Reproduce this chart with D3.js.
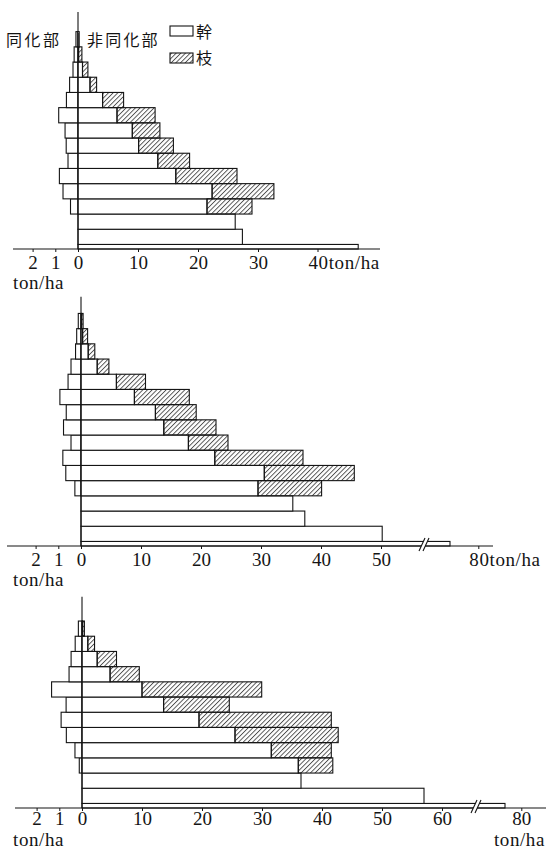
<!DOCTYPE html>
<html>
<head>
<meta charset="utf-8">
<script src="https://cdn.jsdelivr.net/npm/d3@7"></script>
<style>
  html, body { margin: 0; padding: 0; background: #fff; }
  svg { display: block; }
</style>
</head>
<body>
<svg id="chart" width="546" height="850"></svg>
<script>
// ---- Layer boundaries (height above ground, m) ----
const boundsA = [0, 0.3, 1.3, 2.3, 3.3, 4.3, 5.3, 6.3, 7.3, 8.3, 9.3, 10.3, 11.3, 12.3, 13.3, 14.3];
const boundsB = [0, 0.3, 1.3, 2.3, 3.3, 4.3, 5.3, 6.3, 7.3, 8.3, 9.3, 10.3, 11.3, 12.3, 13.3, 14.3, 15.3];
const boundsC = [0, 0.3, 1.3, 2.3, 3.3, 4.3, 5.3, 6.3, 7.3, 8.3, 9.3, 10.3, 11.3, 12.3];

// ---- Dry weight per layer, ton/ha (lowest layer first) ----
// stand A
const leafA   = [0, 0, 0, 0.33, 0.66, 0.82, 0.44, 0.52, 0.57, 0.85, 0.51, 0.37, 0.22, 0.17, 0.09];
const stemA   = [46.7, 27.4, 26.2, 21.5, 22.35, 16.3, 13.3, 10.1, 9.05, 6.5, 4.1, 2.0, 0.75, 0.1, 0.2];
const branchA = [0, 0, 0, 7.5, 10.3, 10.2, 5.3, 5.8, 4.6, 6.35, 3.5, 1.1, 0.9, 0.55, 0];
// stand B
const leafB   = [0, 0, 0, 0, 0.27, 0.67, 0.8, 0.44, 0.77, 0.65, 0.93, 0.57, 0.44, 0.24, 0.19, 0.12];
const stemB   = [75.2, 50.2, 37.3, 35.3, 29.5, 30.55, 22.3, 17.9, 13.8, 12.4, 8.9, 5.9, 2.7, 1.2, 0.27, 0.1];
const branchB = [0, 0, 0, 0, 10.6, 15.0, 14.7, 6.6, 8.7, 6.8, 9.15, 4.85, 1.95, 1.1, 0.83, 0.25];
// stand C
const leafC   = [0, 0, 0, 0.12, 0.31, 0.69, 0.92, 0.7, 1.34, 0.57, 0.48, 0.3, 0.16];
const stemC   = [77.2, 57.0, 36.5, 36.05, 31.55, 25.5, 19.5, 13.6, 10.0, 4.68, 2.53, 0.97, 0.1];
const branchC = [0, 0, 0, 5.75, 10.0, 17.2, 22.05, 10.95, 19.95, 4.87, 3.22, 1.12, 0.3];

// ---- Axis ticks (ton/ha) ----
const leafTicks = [1, 2];
const ticksA = [0, 10, 20, 30];
const ticksB = [0, 10, 20, 30, 40, 50];
const ticksC = [0, 10, 20, 30, 40, 50, 60];
// scale breaks [last value before gap, first value after gap]
const breakB = [57, 70.7];
const breakC = [65.5, 72.2];
// height reached by the vertical axis line, m
const stemLineTop = [15.6, 16.4, 13.9];

// ---- Layout ----
const PX_PER_M = 15.2;     // vertical
const PX_PER_T = 6.0;      // right side (non-assimilating)
const PX_PER_LEAF = 22.7;  // left side (assimilating)
const INK = "#141414";
const SERIF = "'Liberation Serif','DejaVu Serif',serif";
const CJK = "'Noto Sans CJK JP','Noto Sans CJK SC',sans-serif";
const NUM_SIZE = 19;

const panels = [
  { bounds: boundsA, leaf: leafA, stem: stemA, branch: branchA, ticks: ticksA, brk: null,
    top: stemLineTop[0], baseY: 249, zeroX: 78, lineL: 13, lineR: 380, endTick: 40,
    endStyle: "inline", numDy: 19.5, unitDy: 40 },
  { bounds: boundsB, leaf: leafB, stem: stemB, branch: branchB, ticks: ticksB, brk: breakB,
    top: stemLineTop[1], baseY: 546, zeroX: 81, lineL: 7, lineR: 493, endTick: 80,
    endStyle: "inline", numDy: 19.5, unitDy: 40 },
  { bounds: boundsC, leaf: leafC, stem: stemC, branch: branchC, ticks: ticksC, brk: breakC,
    top: stemLineTop[2], baseY: 808, zeroX: 82, lineL: 15, lineR: 546, endTick: 80,
    endStyle: "below", numDy: 16.5, unitDy: 37.7 }
];

const svg = d3.select("#chart");
svg.append("rect").attr("width", 546).attr("height", 850).attr("fill", "#fff");

const defs = svg.append("defs");
defs.append("pattern")
  .attr("id", "hatch")
  .attr("patternUnits", "userSpaceOnUse")
  .attr("width", 3.3).attr("height", 3.3)
  .attr("patternTransform", "rotate(45)")
  .append("line")
  .attr("x1", 0.5).attr("y1", 0).attr("x2", 0.5).attr("y2", 3.3)
  .attr("stroke", "#333").attr("stroke-width", 0.8);

panels.forEach(p => {
  const g = svg.append("g");

  const y = d3.scaleLinear().domain([0, 1]).range([p.baseY, p.baseY - PX_PER_M]);

  let xR;
  if (p.brk) {
    const xb = p.zeroX + PX_PER_T * p.brk[0];
    xR = d3.scaleLinear()
      .domain([0, p.brk[0], p.brk[1], p.brk[1] + 20])
      .range([p.zeroX, xb, xb, xb + PX_PER_T * 20]);
  } else {
    xR = d3.scaleLinear().domain([0, 1]).range([p.zeroX, p.zeroX + PX_PER_T]);
  }
  const xL = d3.scaleLinear().domain([0, 1]).range([p.zeroX, p.zeroX - PX_PER_LEAF]);

  const layers = p.stem.map((s, i) => ({
    lo: p.bounds[i], hi: p.bounds[i + 1],
    leaf: p.leaf[i], stem: s, branch: p.branch[i]
  }));

  // assimilating part (left)
  g.selectAll("rect.leaf").data(layers.filter(d => d.leaf > 0)).join("rect")
    .attr("class", "leaf")
    .attr("x", d => xL(d.leaf))
    .attr("y", d => y(d.hi))
    .attr("width", d => xL(0) - xL(d.leaf))
    .attr("height", d => y(d.lo) - y(d.hi))
    .attr("fill", "#fff").attr("stroke", INK).attr("stroke-width", 1.1);

  // stems (white)
  g.selectAll("rect.stem").data(layers).join("rect")
    .attr("class", "stem")
    .attr("x", xR(0))
    .attr("y", d => y(d.hi))
    .attr("width", d => xR(d.stem) - xR(0))
    .attr("height", d => y(d.lo) - y(d.hi))
    .attr("fill", "#fff").attr("stroke", INK).attr("stroke-width", 1.1);

  // branches (hatched)
  g.selectAll("rect.branch").data(layers.filter(d => d.branch > 0)).join("rect")
    .attr("class", "branch")
    .attr("x", d => xR(d.stem))
    .attr("y", d => y(d.hi))
    .attr("width", d => xR(d.stem + d.branch) - xR(d.stem))
    .attr("height", d => y(d.lo) - y(d.hi))
    .attr("fill", "url(#hatch)").attr("stroke", INK).attr("stroke-width", 1.1);

  // vertical zero line
  g.append("line")
    .attr("x1", xR(0)).attr("x2", xR(0))
    .attr("y1", y(0)).attr("y2", y(p.top))
    .attr("stroke", INK).attr("stroke-width", 1.1);

  // horizontal baseline
  g.append("line")
    .attr("x1", p.lineL).attr("x2", p.lineR)
    .attr("y1", p.baseY).attr("y2", p.baseY)
    .attr("stroke", INK).attr("stroke-width", 1.2);

  // tick marks + numbers
  const styleAxis = sel => {
    sel.attr("font-family", SERIF).attr("font-size", NUM_SIZE).attr("color", INK);
    sel.select(".domain").remove();
    sel.selectAll(".tick line").attr("stroke-width", 1);
    sel.selectAll(".tick text").attr("dy", null).attr("y", p.numDy);
  };
  g.append("g").attr("transform", `translate(0,${p.baseY})`)
    .call(d3.axisBottom(xR).tickValues(p.ticks).tickSize(3).tickFormat(d3.format("d")))
    .call(styleAxis);
  g.append("g").attr("transform", `translate(0,${p.baseY})`)
    .call(d3.axisBottom(xL).tickValues(leafTicks).tickSize(3).tickFormat(d3.format("d")))
    .call(styleAxis);

  // end-of-scale label
  const endX = xR(p.endTick);
  const numY = p.baseY + p.numDy;
  g.append("line").attr("x1", endX).attr("x2", endX)
    .attr("y1", p.baseY).attr("y2", p.baseY + 3).attr("stroke", INK);
  if (p.endStyle === "inline") {
    g.append("text")
      .attr("x", endX - NUM_SIZE / 2).attr("y", numY)
      .attr("font-family", SERIF).attr("font-size", NUM_SIZE).attr("fill", INK)
      .attr("letter-spacing", 0.6)
      .text(`${p.endTick}ton/ha`);
  } else {
    g.append("text")
      .attr("x", endX).attr("y", numY).attr("text-anchor", "middle")
      .attr("font-family", SERIF).attr("font-size", NUM_SIZE).attr("fill", INK)
      .text(p.endTick);
    g.append("text")
      .attr("x", 545).attr("y", p.baseY + p.unitDy).attr("text-anchor", "end")
      .attr("font-family", SERIF).attr("font-size", NUM_SIZE).attr("fill", INK)
      .attr("letter-spacing", 0.6)
      .text("ton/ha");
  }

  // unit for the assimilating side
  g.append("text")
    .attr("x", 13).attr("y", p.baseY + p.unitDy)
    .attr("font-family", SERIF).attr("font-size", NUM_SIZE).attr("fill", INK)
    .attr("letter-spacing", 0.6)
    .text("ton/ha");

  // scale break marks
  if (p.brk) {
    const bx = xR(p.brk[0]);
    const by = p.baseY - 1;
    g.append("polygon")
      .attr("points", `${bx - 4},${by + 6} ${bx + 0},${by + 6} ${bx + 6},${by - 7} ${bx + 2},${by - 7}`)
      .attr("fill", "#fff");
    [[-4, 2], [0, 6]].forEach(([a, b]) => {
      g.append("line")
        .attr("x1", bx + a).attr("y1", by + 6)
        .attr("x2", bx + b).attr("y2", by - 7)
        .attr("stroke", INK).attr("stroke-width", 1.1);
    });
  }
});

// headings and legend
const head = svg.append("g").attr("font-family", CJK).attr("font-size", 16).attr("fill", INK);
head.append("text").attr("x", 6).attr("y", 46).attr("letter-spacing", 2.5).text("同化部");
head.append("text").attr("x", 87).attr("y", 46).attr("letter-spacing", 2.2).text("非同化部");

const legendItems = [{ label: "幹", fill: "#fff" }, { label: "枝", fill: "url(#hatch)" }];
const lg = svg.append("g");
lg.selectAll("rect").data(legendItems).join("rect")
  .attr("x", 170).attr("y", (d, i) => 26 + i * 27)
  .attr("width", 23).attr("height", 10)
  .attr("fill", d => d.fill).attr("stroke", INK).attr("stroke-width", 1.1);
lg.selectAll("text").data(legendItems).join("text")
  .attr("x", 196).attr("y", (d, i) => 38 + i * 26)
  .attr("font-family", CJK).attr("font-size", 16).attr("fill", INK)
  .text(d => d.label);
</script>
</body>
</html>
